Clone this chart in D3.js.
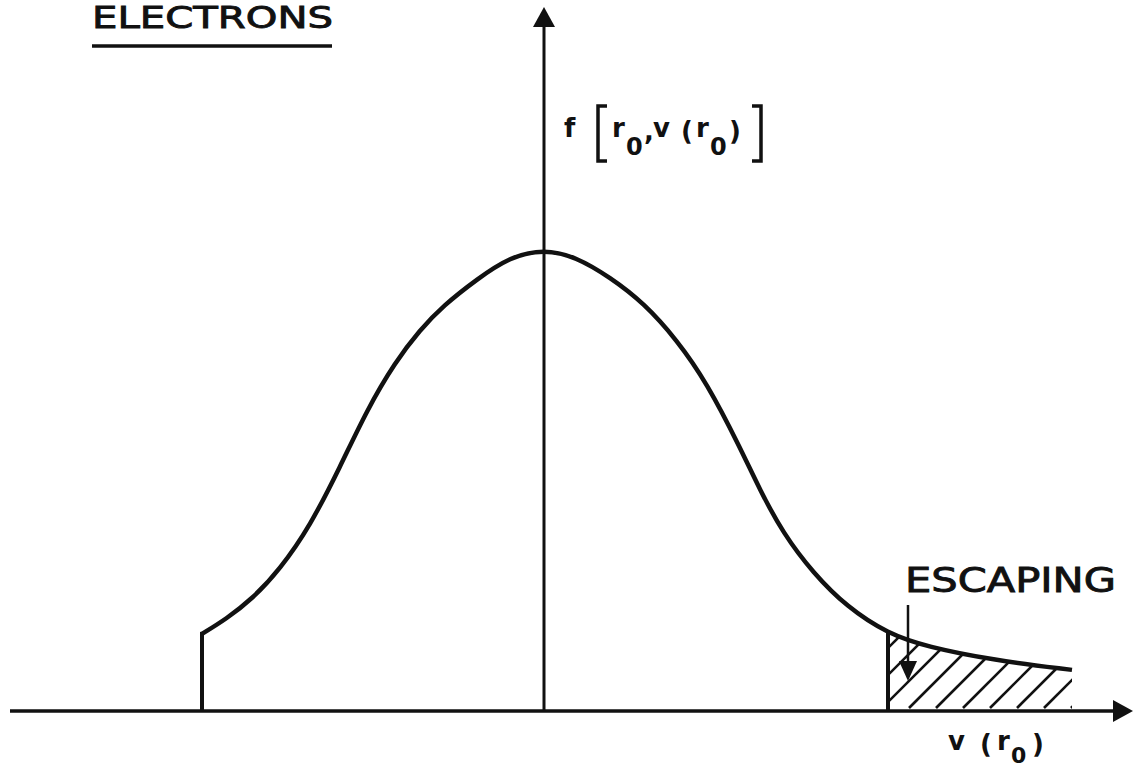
<!DOCTYPE html>
<html>
<head>
<meta charset="utf-8">
<script src="https://cdn.jsdelivr.net/npm/d3@7"></script>
<style>
    body { margin: 0; background: #fff; }
    svg { display: block; }
    .lbl { font-family: "DejaVu Sans", sans-serif; font-weight: bold; fill: #111; }
    .lbl-m { font-family: "DejaVu Sans", sans-serif; fill: #111; stroke: #111; stroke-width: 0.9px; }
</style>
</head>
<body>
<div id="chart"></div>
<script>
// v(r0) in arbitrary units, 0 = centre of the distribution
var velocity = [-3.42, -3.18, -2.92, -2.64, -2.34, -2.04, -1.77, -1.49, -1.24, -1.01, -0.67, -0.34, 0,
                0.32, 0.66, 1.00, 1.33, 1.63, 1.96, 2.16, 2.39, 2.69, 3.03, 3.44, 3.83, 4.49, 5.28];
// f[r0, v(r0)], normalised to the peak
var density = [0.167, 0.199, 0.242, 0.307, 0.400, 0.528, 0.652, 0.755, 0.825, 0.877, 0.935, 0.983, 1.000,
               0.983, 0.939, 0.883, 0.803, 0.710, 0.571, 0.478, 0.385, 0.299, 0.225, 0.167, 0.139, 0.110, 0.089];
// velocity cutoffs: trapped lower edge, escape velocity
var cutoffs = [-3.42, 3.44];
var vDomain = [-5.34, 5.89];
var fDomain = [0, 1.524];

var titleText = "ELECTRONS";
var escapeText = "ESCAPING";

DistributionChart = function(_parentElement) {
    this.parentElement = _parentElement;
    this.data = velocity.map(function(v, i) { return { v: v, f: density[i] }; });
    this.initVis();
}

DistributionChart.prototype.initVis = function() {
    var vis = this;

    vis.margin = { top: 7, right: 7, bottom: 63, left: 10 };
    vis.width = 1140 - vis.margin.left - vis.margin.right;
    vis.height = 774 - vis.margin.top - vis.margin.bottom;

    vis.svg = d3.select("#" + vis.parentElement).append("svg")
        .attr("width", 1140)
        .attr("height", 774)
        .append("g")
        .attr("transform", "translate(" + vis.margin.left + "," + vis.margin.top + ")");

    vis.x = d3.scaleLinear().domain(vDomain).range([0, vis.width]);
    vis.y = d3.scaleLinear().domain(fDomain).range([vis.height, 0]);

    // arrow heads
    var defs = vis.svg.append("defs");
    defs.append("marker")
        .attr("id", "arrow")
        .attr("markerUnits", "userSpaceOnUse")
        .attr("markerWidth", 20).attr("markerHeight", 22)
        .attr("refX", 0).attr("refY", 11)
        .attr("orient", "auto")
        .append("path").attr("d", "M0,0L20,11L0,22Z").attr("fill", "#111");
    defs.append("marker")
        .attr("id", "arrowSmall")
        .attr("markerUnits", "userSpaceOnUse")
        .attr("markerWidth", 20).attr("markerHeight", 18)
        .attr("refX", 0).attr("refY", 9)
        .attr("orient", "auto")
        .append("path").attr("d", "M0,0L20,9L0,18Z").attr("fill", "#111");

    vis.wrangleData();
}

DistributionChart.prototype.wrangleData = function() {
    var vis = this;
    vis.tail = vis.data.filter(function(d) { return d.v >= cutoffs[1]; });
    vis.updateVis();
}

DistributionChart.prototype.updateVis = function() {
    var vis = this;
    var x0 = vis.x(0), y0 = vis.y(0);

    // axes
    vis.svg.append("line")
        .attr("x1", vis.x(vDomain[0])).attr("x2", vis.x(vDomain[1]) - 20)
        .attr("y1", y0).attr("y2", y0)
        .attr("stroke", "#111").attr("stroke-width", 3.5)
        .attr("marker-end", "url(#arrow)");
    vis.svg.append("line")
        .attr("x1", x0).attr("x2", x0)
        .attr("y1", y0).attr("y2", vis.y(fDomain[1]) + 20)
        .attr("stroke", "#111").attr("stroke-width", 3)
        .attr("marker-end", "url(#arrow)");

    // hatched escaping region
    var area = d3.area()
        .x(function(d) { return vis.x(d.v); })
        .y0(y0)
        .y1(function(d) { return vis.y(d.f); })
        .curve(d3.curveBasis);
    vis.svg.select("defs").append("clipPath")
        .attr("id", "escClip")
        .append("path")
        .attr("d", area(vis.tail));

    var hatchStart = d3.range(cutoffs[1] - 1.5, vDomain[1], 0.27).map(function(v) { return v + 0.09; });
    vis.svg.append("g")
        .attr("clip-path", "url(#escClip)")
        .selectAll("line")
        .data(hatchStart)
        .enter()
        .append("line")
        .attr("x1", function(d) { return vis.x(d); })
        .attr("y1", y0 - 3)
        .attr("x2", function(d) { return vis.x(d) + 120; })
        .attr("y2", y0 - 123)
        .attr("stroke", "#111")
        .attr("stroke-width", 2.6);

    // distribution curve
    var line = d3.line()
        .x(function(d) { return vis.x(d.v); })
        .y(function(d) { return vis.y(d.f); })
        .curve(d3.curveBasis);
    vis.svg.append("path")
        .datum(vis.data)
        .attr("d", line)
        .attr("fill", "none")
        .attr("stroke", "#111")
        .attr("stroke-width", 4.5)
        .attr("stroke-linejoin", "round");

    // vertical cutoffs
    vis.svg.selectAll(".cutoff")
        .data(cutoffs)
        .enter()
        .append("line")
        .attr("class", "cutoff")
        .attr("x1", function(d) { return vis.x(d); })
        .attr("x2", function(d) { return vis.x(d); })
        .attr("y1", y0)
        .attr("y2", function(d) {
            var p = vis.data.find(function(e) { return e.v === d; });
            return vis.y(p.f) - 2;
        })
        .attr("stroke", "#111")
        .attr("stroke-width", 4);

    // ESCAPING label and arrow
    var ex = vis.x(cutoffs[1]);
    vis.svg.append("text")
        .attr("class", "lbl-m")
        .attr("x", ex + 17).attr("y", 585)
        .attr("textLength", 211).attr("lengthAdjust", "spacingAndGlyphs")
        .style("font-size", "34px")
        .text(escapeText);
    vis.svg.append("line")
        .attr("x1", ex + 20).attr("x2", ex + 20)
        .attr("y1", 598).attr("y2", 654)
        .attr("stroke", "#111").attr("stroke-width", 2.5)
        .attr("marker-end", "url(#arrowSmall)");

    // title
    vis.svg.append("text")
        .attr("class", "lbl-m")
        .attr("x", 82).attr("y", 21)
        .attr("textLength", 241).attr("lengthAdjust", "spacingAndGlyphs")
        .style("font-size", "31px")
        .text(titleText);
    vis.svg.append("line")
        .attr("x1", 82).attr("x2", 322)
        .attr("y1", 39).attr("y2", 39)
        .attr("stroke", "#111").attr("stroke-width", 3.5);

    // y-axis label f[r0, v(r0)]
    var yl = vis.svg.append("g").attr("transform", "translate(" + (x0 + 19) + ",0)");
    var yParts = [
        { t: "f", x: 1, y: 130, s: 26 },
        { t: "r", x: 49, y: 130, s: 26 },
        { t: "0", x: 63, y: 148, s: 24 },
        { t: ",", x: 81, y: 133, s: 26 },
        { t: "v", x: 90, y: 130, s: 26 },
        { t: "(", x: 118, y: 133, s: 26 },
        { t: "r", x: 133, y: 130, s: 26 },
        { t: "0", x: 147, y: 148, s: 24 },
        { t: ")", x: 166, y: 133, s: 26 }
    ];
    yl.selectAll("text")
        .data(yParts)
        .enter()
        .append("text")
        .attr("class", "lbl")
        .attr("x", function(d) { return d.x; })
        .attr("y", function(d) { return d.y; })
        .style("font-size", function(d) { return d.s + "px"; })
        .text(function(d) { return d.t; });
    yl.append("path")
        .attr("d", "M44,99H35V154H44M189,99H198V154H189")
        .attr("fill", "none")
        .attr("stroke", "#111")
        .attr("stroke-width", 3.5);

    // x-axis label v(r0)
    var xParts = [
        { t: "v", x: 938, y: 743, s: 26 },
        { t: "(", x: 970, y: 746, s: 26 },
        { t: "r", x: 987, y: 743, s: 26 },
        { t: "0", x: 1001, y: 756, s: 22 },
        { t: ")", x: 1022, y: 746, s: 26 }
    ];
    vis.svg.append("g").selectAll("text")
        .data(xParts)
        .enter()
        .append("text")
        .attr("class", "lbl")
        .attr("x", function(d) { return d.x; })
        .attr("y", function(d) { return d.y; })
        .style("font-size", function(d) { return d.s + "px"; })
        .text(function(d) { return d.t; });
}

new DistributionChart("chart");
</script>
</body>
</html>
